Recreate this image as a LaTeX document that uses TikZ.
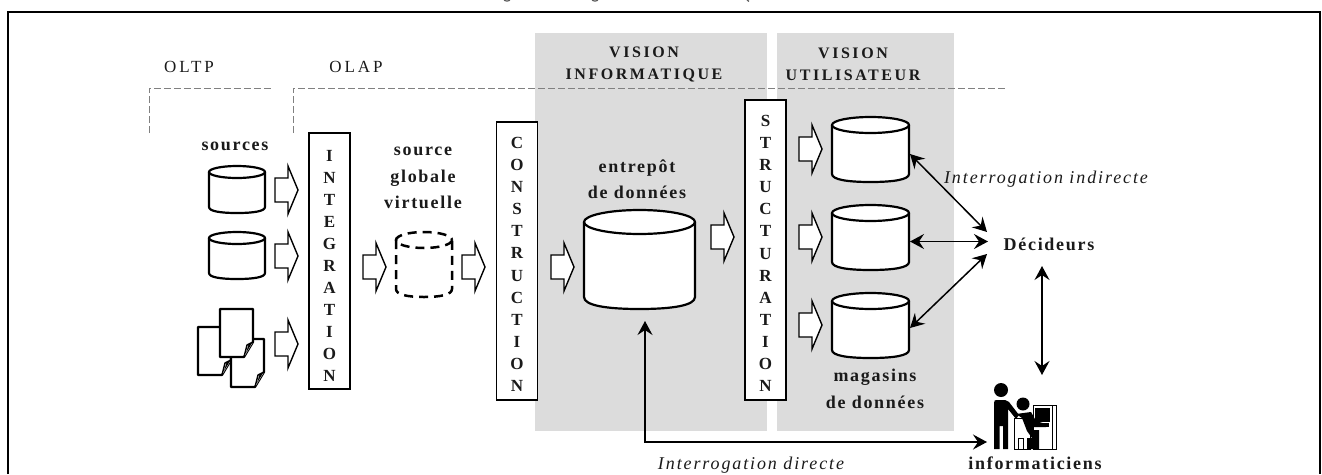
\documentclass[tikz,border=0pt]{standalone}
\usepackage{fontspec}
\setmainfont{Liberation Serif}
\usetikzlibrary{arrows.meta}
\newcommand{\spaced}[1][9.5]{\addfontfeatures{LetterSpace=#1}}
\newcommand{\lift}[1]{\rule{0pt}{#1pt}}
\definecolor{panel}{HTML}{DCDCDC}
\definecolor{dashgrey}{HTML}{808080}
\definecolor{ink}{HTML}{1A1A1A}
\tikzset{
  x=1pt,y=-1pt,
  boldlbl/.style={inner sep=0pt,align=center,text=ink,font=\fontsize{18}{26.5}\selectfont\bfseries\spaced},
  capslbl/.style={inner sep=0pt,align=center,text=ink,font=\fontsize{16}{22}\selectfont\bfseries\spaced[16]},
  plainlbl/.style={inner sep=0pt,text=ink,anchor=base,font=\fontsize{17}{18}\selectfont\spaced[17]},
  itlbl/.style={inner sep=0pt,text=ink,anchor=base,font=\fontsize{18}{18}\selectfont\itshape\spaced[10.5]},
  letterbox/.style={draw=black,line width=1.3pt,fill=white,inner sep=0pt,minimum width=41pt,align=center,text=ink,font=\fontsize{17}{22.05}\selectfont\bfseries},
  guide/.style={draw=dashgrey,line width=0.9pt,dash pattern=on 7pt off 3pt},
  conn/.style={line width=1.5pt,{Stealth[length=14pt,width=15pt,inset=5pt]}-{Stealth[length=14pt,width=15pt,inset=5pt]}},
  pics/blockarrow/.style={code={
    \draw[line width=1.4pt,fill=white,line join=miter] (0,-12) -- (13,-12) -- (13,-24) -- (23,0) -- (13,24) -- (13,12) -- (0,12) -- cycle;
  }},
  pics/dbcyl/.style n args={4}{code={
    \path[fill=white] (0,#3) -- (0,#2-#3) .. controls (0,#2-0.3*#3) and (0.2*#1,#2) .. (0.5*#1,#2)
      .. controls (0.8*#1,#2) and (#1,#2-0.3*#3) .. (#1,#2-#3) -- (#1,#3) -- cycle;
    \path[fill=white] (0.5*#1,#3) ellipse [x radius=0.5*#1,y radius=#3];
    \draw[line width=2.2pt,#4,line join=round]
      (0,#3) -- (0,#2-#3) .. controls (0,#2-0.3*#3) and (0.2*#1,#2) .. (0.5*#1,#2)
      .. controls (0.8*#1,#2) and (#1,#2-0.3*#3) .. (#1,#2-#3) -- (#1,#3);
    \draw[line width=2.2pt,#4] (0.5*#1,#3) ellipse [x radius=0.5*#1,y radius=#3];
  }},
  pics/sheet/.style={code={
    \draw[line width=2.2pt,fill=white,line join=round] (0,0) -- (33,0) -- (33,33) -- (24,48) -- (0,48) -- cycle;
    \fill[white] (33,33) -- (27,36) -- (24,48) -- cycle;
    \draw[line width=1.4pt,line join=round] (33,33) -- (27,36) -- (24,48);
    \fill (32,34) -- (28.5,35.5) -- (26,44) -- cycle;
  }},
}
\begin{document}
\begin{tikzpicture}
\useasboundingbox (0,0) rectangle (1322,474);
% panels
\fill[panel] (535,33) rectangle (767,431);
\fill[panel] (777,33) rectangle (954,431);
% frame
\draw[line width=2pt] (8,474) -- (8,12) -- (1320,12) -- (1320,474);
% clipped title remnants
\draw[ink!70,line width=1.2pt] (504,0.3) .. controls (506,1.4) and (508,1.4) .. (510,0.3);
\draw[ink!70,line width=1.2pt] (592,0.3) .. controls (594,1.4) and (596,1.4) .. (598,0.3);
\draw[ink!70,line width=1.2pt] (747,0) -- (749,1.4);
% guides
\draw[guide] (149,133) -- (149,88) -- (271,88);
\draw[guide] (293,133) -- (293,88) -- (1008,88);
% labels
\node[plainlbl] (oltp) at (189,72) {OLTP};
\node[plainlbl] (olap) at (356,72) {OLAP};
\node[capslbl] (visinf) at (644,64) {VISION\\INFORMATIQUE};
\node[capslbl] (visuti) at (853,64) {VISION\\UTILISATEUR};
\node[boldlbl,anchor=base] (sources) at (235,150) {sources};
\node[boldlbl] (sgv) at (423,178) {source\\globale\\virtuelle};
\node[boldlbl] (entrepot) at (637,179) {entrepôt\\de données};
\node[boldlbl] (magasins) at (875,389) {magasins\\de données};
\node[boldlbl,anchor=base] (decideurs) at (1049,250) {Décideurs};
\node[boldlbl,anchor=base] (informaticiens) at (1035,469) {informaticiens};
\node[itlbl] (indirecte) at (1046,183) {Interrogation indirecte};
\node[itlbl] (directe) at (751,469) {Interrogation directe};
% process boxes
\node[letterbox,minimum height=256pt] (integration) at (329.5,261) {\lift{21}I\\N\\T\\E\\G\\R\\A\\T\\I\\O\\N};
\node[letterbox,minimum height=278pt] (construction) at (517,261) {\lift{18}C\\O\\N\\S\\T\\R\\U\\C\\T\\I\\O\\N};
\node[letterbox,minimum height=300pt] (structuration) at (765.5,250) {\lift{18}S\\T\\R\\U\\C\\T\\U\\R\\A\\T\\I\\O\\N};
% cylinders
\pic at (209,166) {dbcyl={56}{47}{6}{}};
\pic at (209,232) {dbcyl={56}{47}{6}{}};
\pic at (396,232) {dbcyl={56}{65}{8}{dash pattern=on 9pt off 6pt,line width=2.5pt}};
\pic at (584,210) {dbcyl={111}{99}{12}{}};
\pic at (832,117) {dbcyl={77}{65}{8}{}};
\pic at (832,205) {dbcyl={77}{65}{8}{}};
\pic at (832,293) {dbcyl={77}{65}{8}{}};
% documents
\pic at (198,327) {sheet};
\pic at (231,339) {sheet};
\pic at (220,309) {sheet};
% block arrows
\pic at (275,190) {blockarrow};
\pic at (275,256) {blockarrow};
\pic at (275,344) {blockarrow};
\pic at (363,267) {blockarrow};
\pic at (462,267) {blockarrow};
\pic at (551,267) {blockarrow};
\pic at (711,237) {blockarrow};
\pic at (799,149) {blockarrow};
\pic at (799,237) {blockarrow};
\pic at (799,325) {blockarrow};
% icon
\fill (1001,390) circle (7);
\fill (1023,404) circle (6.5);
\draw[line width=0.7pt,fill=white] (1014,418) rectangle (1030,449);
\draw[line width=0.7pt,fill=white] (1033,405.5) rectangle (1056,449);
\draw[line width=0.7pt] (1052,405.5) -- (1052,449);
\draw[line width=0.7pt] (1018,438) rectangle (1023,449);
\fill (1034.5,407.5) rectangle (1049.5,422);
\fill (1033,423) rectangle (1049,426.5);
\fill (994,403) .. controls (994,400) and (995,400) .. (997,400) -- (1005,400) -- (1009,402) -- (1019,415) -- (1016,419) -- (1008,409) -- (1008,449) -- (1003,449) -- (1003,426) -- (999.5,426) -- (999.5,449) -- (994,449) -- cycle;
\fill (1016,414) -- (1031,412) -- (1036,421) -- (1046,424) -- (1046,427) -- (1034,427) -- (1033,430) -- (1039,430) -- (1039,449) -- (1027,449) -- (1027,438) -- (1032,438) -- (1027,431) -- (1022,418) -- cycle;
% connector ends
\coordinate (m1) at (910,154);
\coordinate (m2) at (910,241.5);
\coordinate (m3) at (910,328);
\coordinate (d1) at (987,232);
\coordinate (d2) at (988,241.5);
\coordinate (d3) at (987,254);
\coordinate (d4) at (1042,266);
\coordinate (i1) at (1042,375);
\coordinate (e1) at (645,321);
\coordinate (i2) at (987,442);
\draw[conn] (m1) -- (d1);
\draw[conn] (m2) -- (d2);
\draw[conn] (m3) -- (d3);
\draw[conn] (d4) -- (i1);
\draw[conn,line width=1.3pt] (e1) |- (i2);
\end{tikzpicture}
\end{document}
